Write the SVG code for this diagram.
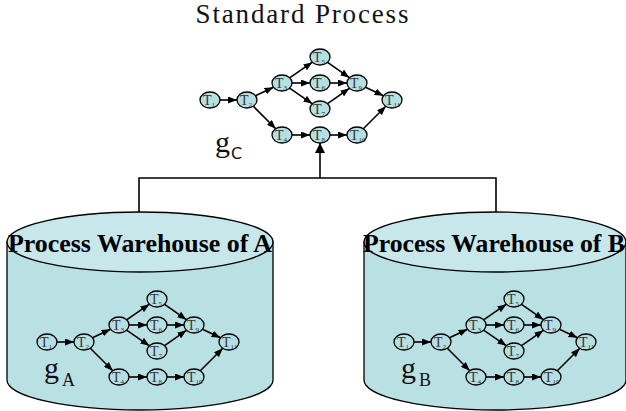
<svg xmlns="http://www.w3.org/2000/svg" width="626" height="411" viewBox="0 0 626 411">
<style>
.cylbody{fill:#b9e0e3;stroke:#000;stroke-width:1.3}
.cyltop{fill:#c8e7ea;stroke:#000;stroke-width:1.3}
.wh{font-family:"Liberation Serif",serif;font-weight:bold;font-size:25px;fill:#000;text-anchor:middle}
.title{font-family:"Liberation Serif",serif;font-size:27px;fill:#111;text-anchor:middle}
.g{font-family:"Liberation Serif",serif;font-size:30px;fill:#111}
.sub{font-family:"Liberation Serif",serif;font-size:18px;fill:#111}
.subs{font-family:"DejaVu Sans",sans-serif;font-size:16px;fill:#111}
.nd{fill:#b6dfe1;stroke:#000;stroke-width:1.3}
.tl{font-family:"Liberation Serif",serif;font-size:14px;fill:#333}
.ts{font-size:7px}
.e line{stroke:#000;stroke-width:1.6;marker-end:url(#ah)}
.conn{fill:none;stroke:#000;stroke-width:1.6}
</style>
<defs>
<marker id="ah" markerUnits="userSpaceOnUse" markerWidth="9" markerHeight="7" refX="9" refY="3.5" orient="auto">
<path d="M0,0 L9,3.5 L0,7 Z" fill="#000"/>
</marker>
<marker id="ah2" markerUnits="userSpaceOnUse" markerWidth="10" markerHeight="10" refX="10" refY="5" orient="auto">
<path d="M0,0 L10,5 L0,10 Z" fill="#000"/>
</marker>
</defs>

<text class="title" x="302" y="23" textLength="213" lengthAdjust="spacing">Standard Process</text>

<!-- Cylinders -->
<g id="warehouseA">
<path class="cylbody" d="M7,242 L7,380 A133,30 0 0 0 273,380 L273,242 Z"/>
<ellipse class="cyltop" cx="140" cy="242" rx="133" ry="30"/>
<text class="wh" x="140" y="252" textLength="264" lengthAdjust="spacingAndGlyphs">Process Warehouse of A</text>
</g>
<g id="warehouseB">
<path class="cylbody" d="M364,242 L364,380 A131,30 0 0 0 626,380 L626,242 Z"/>
<ellipse class="cyltop" cx="495" cy="242" rx="131" ry="30"/>
<text class="wh" x="494" y="252" textLength="262" lengthAdjust="spacingAndGlyphs">Process Warehouse of B</text>
</g>

<!-- Graph labels -->
<g id="label-gC"><text class="g" x="215" y="152">g</text><text class="subs" x="231" y="159">C</text></g>
<g id="label-gA"><text class="g" x="44" y="378">g</text><text class="sub" x="62" y="386">A</text></g>
<g id="label-gB"><text class="g" x="401" y="378">g</text><text class="sub" x="419" y="386">B</text></g>

<!-- Connectors -->
<g id="connectors">
<path class="conn" d="M139,212 V178 H496 V212"/>
<line x1="320" y1="178" x2="320" y2="143" stroke="#000" stroke-width="1.6" marker-end="url(#ah2)"/>
<g class="e" transform="translate(210,100)">
<line x1="10" y1="0" x2="27" y2="0"/>
<line x1="45.5" y1="-4.2" x2="63.5" y2="-12.8"/>
<line x1="43.3" y1="6.3" x2="65.8" y2="28.8"/>
<line x1="79.6" y1="-22.2" x2="102.4" y2="-37.8"/>
<line x1="82" y1="-17" x2="100" y2="-17"/>
<line x1="79.6" y1="-11.8" x2="102.4" y2="3.8"/>
<line x1="117.6" y1="-37.7" x2="139.4" y2="-22.3"/>
<line x1="120" y1="-17" x2="137" y2="-17"/>
<line x1="117.6" y1="3.7" x2="139.4" y2="-11.7"/>
<line x1="155.5" y1="-12.8" x2="173.5" y2="-4.2"/>
<line x1="82" y1="35" x2="100" y2="35"/>
<line x1="120" y1="35" x2="137" y2="35"/>
<line x1="153.3" y1="28.8" x2="175.8" y2="6.3"/>
</g>
<g class="e" transform="translate(47,342)">
<line x1="10" y1="0" x2="27" y2="0"/>
<line x1="45.5" y1="-4.2" x2="63.5" y2="-12.8"/>
<line x1="43.3" y1="6.3" x2="65.8" y2="28.8"/>
<line x1="79.6" y1="-22.2" x2="102.4" y2="-37.8"/>
<line x1="82" y1="-17" x2="100" y2="-17"/>
<line x1="79.6" y1="-11.8" x2="102.4" y2="3.8"/>
<line x1="117.6" y1="-37.7" x2="139.4" y2="-22.3"/>
<line x1="120" y1="-17" x2="137" y2="-17"/>
<line x1="117.6" y1="3.7" x2="139.4" y2="-11.7"/>
<line x1="155.5" y1="-12.8" x2="173.5" y2="-4.2"/>
<line x1="82" y1="35" x2="100" y2="35"/>
<line x1="120" y1="35" x2="137" y2="35"/>
<line x1="153.3" y1="28.8" x2="175.8" y2="6.3"/>
</g>
<g class="e" transform="translate(404,342)">
<line x1="10" y1="0" x2="27" y2="0"/>
<line x1="45.5" y1="-4.2" x2="63.5" y2="-12.8"/>
<line x1="43.3" y1="6.3" x2="65.8" y2="28.8"/>
<line x1="79.6" y1="-22.2" x2="102.4" y2="-37.8"/>
<line x1="82" y1="-17" x2="100" y2="-17"/>
<line x1="79.6" y1="-11.8" x2="102.4" y2="3.8"/>
<line x1="117.6" y1="-37.7" x2="139.4" y2="-22.3"/>
<line x1="120" y1="-17" x2="137" y2="-17"/>
<line x1="117.6" y1="3.7" x2="139.4" y2="-11.7"/>
<line x1="155.5" y1="-12.8" x2="173.5" y2="-4.2"/>
<line x1="82" y1="35" x2="100" y2="35"/>
<line x1="120" y1="35" x2="137" y2="35"/>
<line x1="153.3" y1="28.8" x2="175.8" y2="6.3"/>
</g>
</g>

<!-- Graph C nodes -->
<g id="graphC" transform="translate(210,100)">
<g id="C-T1"><ellipse class="nd" cx="0" cy="0" rx="10" ry="8"/><text class="tl" x="-7" y="5">T<tspan class="ts" dy="2">1</tspan></text></g>
<g id="C-T2"><ellipse class="nd" cx="37" cy="0" rx="10" ry="8"/><text class="tl" x="30" y="5">T<tspan class="ts" dy="2">2</tspan></text></g>
<g id="C-T3"><ellipse class="nd" cx="72" cy="-17" rx="10" ry="8"/><text class="tl" x="65" y="-12">T<tspan class="ts" dy="2">3</tspan></text></g>
<g id="C-T4"><ellipse class="nd" cx="72" cy="35" rx="10" ry="8"/><text class="tl" x="65" y="40">T<tspan class="ts" dy="2">4</tspan></text></g>
<g id="C-T5"><ellipse class="nd" cx="110" cy="-43" rx="10" ry="8"/><text class="tl" x="103" y="-38">T<tspan class="ts" dy="2">5</tspan></text></g>
<g id="C-T6"><ellipse class="nd" cx="110" cy="-17" rx="10" ry="8"/><text class="tl" x="103" y="-12">T<tspan class="ts" dy="2">6</tspan></text></g>
<g id="C-T7"><ellipse class="nd" cx="110" cy="9" rx="10" ry="8"/><text class="tl" x="103" y="14">T<tspan class="ts" dy="2">7</tspan></text></g>
<g id="C-T8"><ellipse class="nd" cx="110" cy="35" rx="10" ry="8"/><text class="tl" x="103" y="40">T<tspan class="ts" dy="2">8</tspan></text></g>
<g id="C-T9"><ellipse class="nd" cx="147" cy="-17" rx="10" ry="8"/><text class="tl" x="140" y="-12">T<tspan class="ts" dy="2">9</tspan></text></g>
<g id="C-T10"><ellipse class="nd" cx="147" cy="35" rx="10" ry="8"/><text class="tl" x="140" y="40">T<tspan class="ts" dy="2">10</tspan></text></g>
<g id="C-T11"><ellipse class="nd" cx="182" cy="0" rx="10" ry="8"/><text class="tl" x="175" y="5">T<tspan class="ts" dy="2">11</tspan></text></g>
</g>

<!-- Graph A nodes -->
<g id="graphA" transform="translate(47,342)">
<g id="A-T1"><ellipse class="nd" cx="0" cy="0" rx="10" ry="8"/><text class="tl" x="-7" y="5">T<tspan class="ts" dy="2">1</tspan></text></g>
<g id="A-T2"><ellipse class="nd" cx="37" cy="0" rx="10" ry="8"/><text class="tl" x="30" y="5">T<tspan class="ts" dy="2">2</tspan></text></g>
<g id="A-T3"><ellipse class="nd" cx="72" cy="-17" rx="10" ry="8"/><text class="tl" x="65" y="-12">T<tspan class="ts" dy="2">3</tspan></text></g>
<g id="A-T4"><ellipse class="nd" cx="72" cy="35" rx="10" ry="8"/><text class="tl" x="65" y="40">T<tspan class="ts" dy="2">4</tspan></text></g>
<g id="A-T5"><ellipse class="nd" cx="110" cy="-43" rx="10" ry="8"/><text class="tl" x="103" y="-38">T<tspan class="ts" dy="2">5</tspan></text></g>
<g id="A-T6"><ellipse class="nd" cx="110" cy="-17" rx="10" ry="8"/><text class="tl" x="103" y="-12">T<tspan class="ts" dy="2">6</tspan></text></g>
<g id="A-T7"><ellipse class="nd" cx="110" cy="9" rx="10" ry="8"/><text class="tl" x="103" y="14">T<tspan class="ts" dy="2">7</tspan></text></g>
<g id="A-T8"><ellipse class="nd" cx="110" cy="35" rx="10" ry="8"/><text class="tl" x="103" y="40">T<tspan class="ts" dy="2">8</tspan></text></g>
<g id="A-T9"><ellipse class="nd" cx="147" cy="-17" rx="10" ry="8"/><text class="tl" x="140" y="-12">T<tspan class="ts" dy="2">9</tspan></text></g>
<g id="A-T10"><ellipse class="nd" cx="147" cy="35" rx="10" ry="8"/><text class="tl" x="140" y="40">T<tspan class="ts" dy="2">10</tspan></text></g>
<g id="A-T11"><ellipse class="nd" cx="182" cy="0" rx="10" ry="8"/><text class="tl" x="175" y="5">T<tspan class="ts" dy="2">11</tspan></text></g>
</g>

<!-- Graph B nodes -->
<g id="graphB" transform="translate(404,342)">
<g id="B-T1"><ellipse class="nd" cx="0" cy="0" rx="10" ry="8"/><text class="tl" x="-7" y="5">T<tspan class="ts" dy="2">1</tspan></text></g>
<g id="B-T2"><ellipse class="nd" cx="37" cy="0" rx="10" ry="8"/><text class="tl" x="30" y="5">T<tspan class="ts" dy="2">2</tspan></text></g>
<g id="B-T3"><ellipse class="nd" cx="72" cy="-17" rx="10" ry="8"/><text class="tl" x="65" y="-12">T<tspan class="ts" dy="2">3</tspan></text></g>
<g id="B-T4"><ellipse class="nd" cx="72" cy="35" rx="10" ry="8"/><text class="tl" x="65" y="40">T<tspan class="ts" dy="2">4</tspan></text></g>
<g id="B-T5"><ellipse class="nd" cx="110" cy="-43" rx="10" ry="8"/><text class="tl" x="103" y="-38">T<tspan class="ts" dy="2">5</tspan></text></g>
<g id="B-T6"><ellipse class="nd" cx="110" cy="-17" rx="10" ry="8"/><text class="tl" x="103" y="-12">T<tspan class="ts" dy="2">6</tspan></text></g>
<g id="B-T7"><ellipse class="nd" cx="110" cy="9" rx="10" ry="8"/><text class="tl" x="103" y="14">T<tspan class="ts" dy="2">7</tspan></text></g>
<g id="B-T8"><ellipse class="nd" cx="110" cy="35" rx="10" ry="8"/><text class="tl" x="103" y="40">T<tspan class="ts" dy="2">8</tspan></text></g>
<g id="B-T9"><ellipse class="nd" cx="147" cy="-17" rx="10" ry="8"/><text class="tl" x="140" y="-12">T<tspan class="ts" dy="2">9</tspan></text></g>
<g id="B-T10"><ellipse class="nd" cx="147" cy="35" rx="10" ry="8"/><text class="tl" x="140" y="40">T<tspan class="ts" dy="2">10</tspan></text></g>
<g id="B-T11"><ellipse class="nd" cx="182" cy="0" rx="10" ry="8"/><text class="tl" x="175" y="5">T<tspan class="ts" dy="2">11</tspan></text></g>
</g>
</svg>
